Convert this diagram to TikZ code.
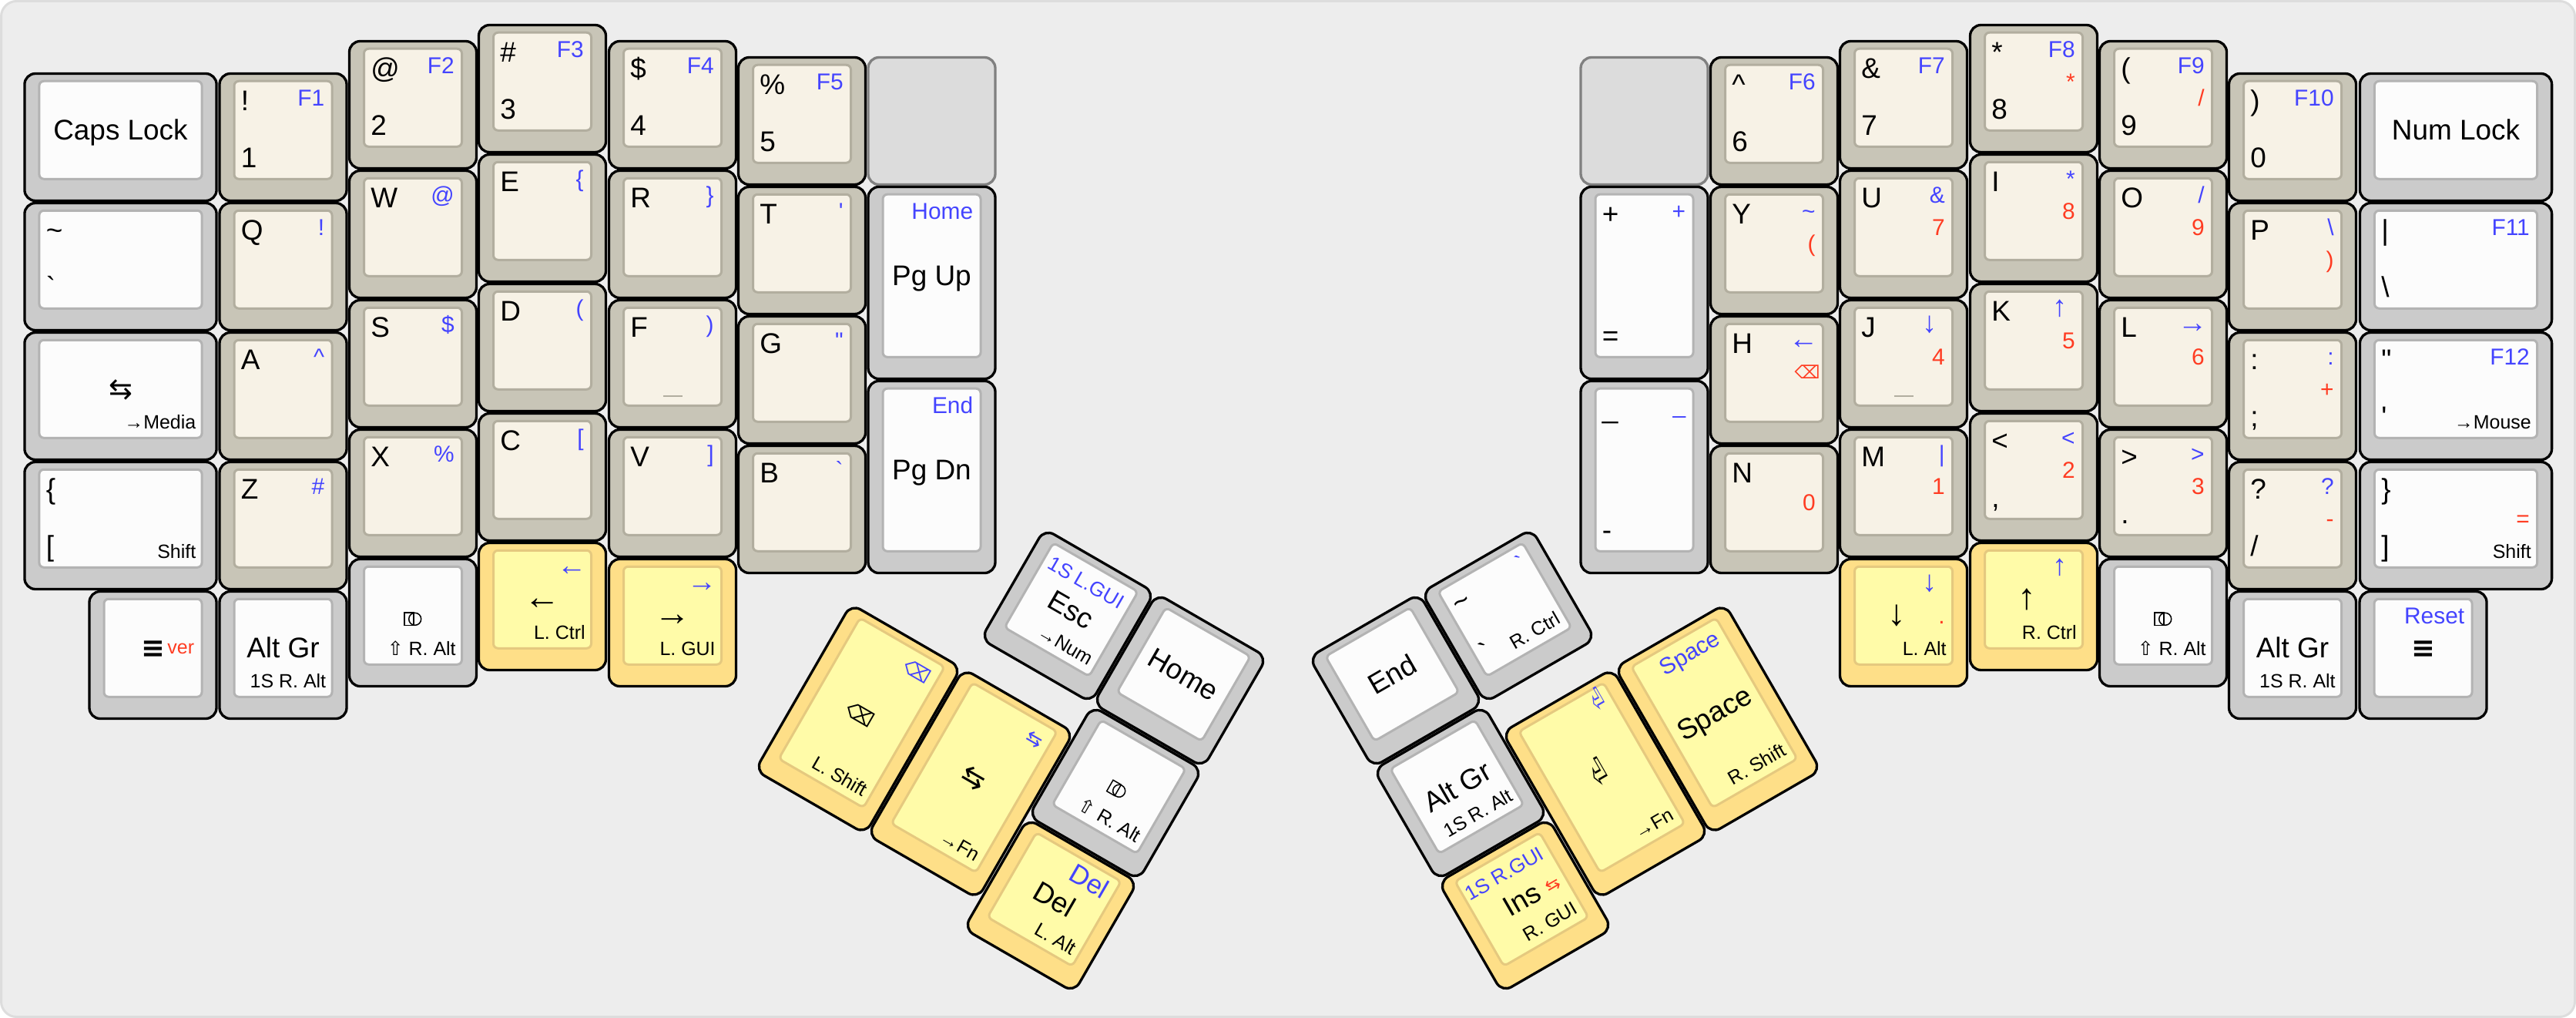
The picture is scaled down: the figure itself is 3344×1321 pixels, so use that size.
\documentclass[tikz,border=0pt]{standalone}
\usepackage{fontspec}
\newfontfamily\capfont{Liberation Sans}
\newfontfamily\capsym{DejaVu Sans}
\definecolor{capblue}{HTML}{4444FF}
\definecolor{capred}{HTML}{FF3C22}
\newcommand{\fmain}{\capfont\fontsize{21}{25}\selectfont}
\newcommand{\fmid}{\capfont\fontsize{17}{20}\selectfont}
\newcommand{\fsmall}{\capfont\fontsize{14.2}{17}\selectfont}
\newcommand{\fgui}{\capfont\fontsize{15}{18}\selectfont}
\newcommand{\fdel}{\capfont\fontsize{19.8}{24}\selectfont}
\newcommand{\capunit}{0.2mm}
\tikzset{
	cap/.cd,
	w/.store in=\capw, h/.store in=\caph, rot/.store in=\caprot, bump/.store in=\capbump, comp/.store in=\capcomp,
	tl/.store in=\captl, bl/.store in=\capbl, tr/.store in=\captr,
	mr/.store in=\capmr, br/.store in=\capbr, cc/.store in=\capcc,
	/tikz/.cd,
	capbody/.style={draw=black, line width=0.66mm, rounded corners=2.8mm, inner sep=0pt},
	captop/.style={line width=0.6mm, rounded corners=1.2mm, inner sep=0pt},
	graybody/.style={capbody, fill={rgb,255:red,203;green,203;blue,203}},
	graytop/.style={captop, draw={rgb,255:red,179;green,179;blue,179}, fill={rgb,255:red,252;green,252;blue,252}},
	alphabody/.style={capbody, fill={rgb,255:red,200;green,197;blue,183}},
	alphatop/.style={captop, draw={rgb,255:red,178;green,174;blue,159}, fill={rgb,255:red,247;green,242;blue,230}},
	modbody/.style={capbody, fill={rgb,255:red,254;green,223;blue,136}},
	modtop/.style={captop, draw={rgb,255:red,229;green,201;blue,127}, fill={rgb,255:red,255;green,251;blue,168}},
	blankcap/.style={draw={rgb,255:red,128;green,128;blue,128}, line width=0.66mm, rounded corners=2.8mm, inner sep=0pt,
		fill={rgb,255:red,220;green,220;blue,220}, minimum width=165*\capunit, minimum height=165*\capunit},
	legmain/.style={inner sep=0pt, font=\fmain},
	legtop/.style={inner sep=0pt, font=\fmid, text=capblue},
	legred/.style={inner sep=0pt, font=\fmid, text=capred},
	legsub/.style={inner sep=0pt, font=\fsmall},
	capmark/.style={draw={rgb,255:red,178;green,174;blue,159}, line width=0.55mm},
	compmark/.style={draw=black, line width=0.3mm}
}
\newcommand{\keycap}[5][]{%
	\begin{scope}
	\tikzset{cap/.cd, w=1, h=1, rot=0, bump=, comp=, tl=, bl=, tr=, mr=, br=, cc=, #1}
	\pgfmathsetmacro{\capow}{\capw*168.3-3.3}
	\pgfmathsetmacro{\capoh}{\caph*168.3-3.3}
	\pgfmathsetmacro{\capiw}{\capw*168.3-41.3}
	\pgfmathsetmacro{\capih}{\caph*168.3-41.3}
	\pgfmathsetmacro{\capl}{-\capiw/2+1.5}
	\pgfmathsetmacro{\capr}{\capiw/2-1.5}
	\pgfmathsetmacro{\capt}{-9.25-\capih/2+1.5}
	\pgfmathsetmacro{\capb}{-9.25+\capih/2-1.5}
	\begin{scope}[shift={(#4,#5)}, rotate=\caprot, every node/.append style={transform shape}]
		\node[#3body, minimum width=\capow*\capunit, minimum height=\capoh*\capunit] (#2) at (0,0) {};
		\node[#3top, minimum width=\capiw*\capunit, minimum height=\capih*\capunit] (#2-top) at (0,-9.25) {};
		\ifx\capbump\empty\else\draw[capmark] (-12.5,42) -- (12.5,42);\fi
		\ifx\capcomp\empty\else
			\draw[compmark] (-11,-13) rectangle (1,3.6);
			\draw[compmark] (2.7,-4.7) circle (8);
		\fi
		\ifx\captl\empty\else\node[legmain, anchor=base west] (#2-tl) at (\capl+7,\capt+37) {\captl};\fi
		\ifx\capbl\empty\else\node[legmain, anchor=base west] (#2-bl) at (\capl+7,\capb-13) {\capbl};\fi
		\ifx\captr\empty\else\node[legtop, anchor=base east] (#2-tr) at (\capr-8,\capt+31) {\captr};\fi
		\ifx\capmr\empty\else\node[legred, anchor=base east] (#2-mr) at (\capr-8,\capt+73) {\capmr};\fi
		\ifx\capbr\empty\else\node[legsub, anchor=base east] (#2-br) at (\capr-6,\capb-10) {\capbr};\fi
		\ifx\capcc\empty\else\node[legmain, anchor=base] (#2-cc) at (0,3.75) {\capcc};\fi
	\end{scope}
	\end{scope}
}
\newcommand{\sym}[2][1]{\scalebox{#1}{\capsym #2}}
\newcommand{\arr}[1]{\scalebox{1.28}{#1}}
\newcommand{\arrside}[1]{\arr{#1}\hspace*{-2.3pt}}
\newcommand{\arrtall}[1]{\arr{#1}\hspace*{5.7pt}}
\newcommand{\arrmid}[1]{\arr{#1}\hspace*{9.6pt}}
\newcommand{\menusym}{{\capsym\bfseries ≡}}
\newcommand{\entersym}{\scalebox{0.62}[1.5]{\capsym ⏎}}
\begin{document}
\begin{tikzpicture}[x=0.2mm, y=-0.2mm]
	\useasboundingbox (0,0) rectangle (3344,1321);
	\draw[draw={rgb,255:red,221;green,221;blue,221}, fill={rgb,255:red,237;green,237;blue,237}, line width=0.6mm, rounded corners=4mm] (1.5,1.5) rectangle (3342.5,1319.5);

	\keycap[w=1.5,cc={Caps Lock}]{capslock}{gray}{156.5}{178}
	\keycap[w=1.5,tl={\textasciitilde},bl={`}]{grave}{gray}{156.5}{346}
	\keycap[w=1.5,cc={\sym{⇆}},br={→Media}]{media}{gray}{156.5}{514}
	\keycap[w=1.5,tl={\{},bl={[},br={Shift}]{lshift}{gray}{156.5}{682}
	\keycap[cc={\menusym},mr={\raisebox{2pt}{\fsmall ver}}]{lmenu}{gray}{198.5}{850}

	\keycap[tl={!},bl={1},tr={F1}]{n1}{alpha}{367.5}{178}
	\keycap[tl={Q},tr={!}]{q}{alpha}{367.5}{346}
	\keycap[tl={A},tr={\textasciicircum}]{a}{alpha}{367.5}{514}
	\keycap[tl={Z},tr={\#}]{z}{alpha}{367.5}{682}
	\keycap[cc={Alt Gr},br={1S R. Alt}]{laltgr}{gray}{367.5}{850}

	\keycap[tl={@},bl={2},tr={F2}]{n2}{alpha}{536}{136}
	\keycap[tl={W},tr={@}]{w}{alpha}{536}{304}
	\keycap[tl={S},tr={\$}]{s}{alpha}{536}{472}
	\keycap[tl={X},tr={\%}]{x}{alpha}{536}{640}
	\keycap[comp=1,br={\sym{⇧} R. Alt}]{lcomp}{gray}{536}{808}

	\keycap[tl={\#},bl={3},tr={F3}]{n3}{alpha}{704}{115}
	\keycap[tl={E},tr={\{}]{e}{alpha}{704}{283}
	\keycap[tl={D},tr={(}]{d}{alpha}{704}{451}
	\keycap[tl={C},tr={[}]{c}{alpha}{704}{619}
	\keycap[cc={\arr{←}},tr={\arrside{←}},br={L. Ctrl}]{left}{mod}{704}{787}

	\keycap[tl={\$},bl={4},tr={F4}]{n4}{alpha}{873}{136}
	\keycap[tl={R},tr={\}}]{r}{alpha}{873}{304}
	\keycap[tl={F},tr={)},bump=1]{f}{alpha}{873}{472}
	\keycap[tl={V},tr={]}]{v}{alpha}{873}{640}
	\keycap[cc={\arr{→}},tr={\arrside{→}},br={L. GUI}]{right}{mod}{873}{808}

	\keycap[tl={\%},bl={5},tr={F5}]{n5}{alpha}{1041}{157}
	\keycap[tl={T},tr={'}]{t}{alpha}{1041}{325}
	\keycap[tl={G},tr={"}]{g}{alpha}{1041}{493}
	\keycap[tl={B},tr={`}]{b}{alpha}{1041}{661}

	\node[blankcap] (blankl) at (1209.5,157) {};
	\keycap[h=1.5,cc={Pg Up},tr={Home}]{pgup}{gray}{1209.5}{367}
	\keycap[h=1.5,cc={Pg Dn},tr={End}]{pgdn}{gray}{1209.5}{619}

	\keycap[rot=-30,cc={Esc},tr={\fgui 1S L.GUI},br={→Num}]{esc}{gray}{1386}{799}
	\keycap[rot=-30,cc={Home}]{home}{gray}{1532}{883}
	\keycap[rot=-30,comp=1,br={\sym{⇧} R. Alt}]{thcomp}{gray}{1448}{1029}
	\keycap[rot=-30,cc={Del},tr={\fdel Del},br={L. Alt}]{del}{mod}{1364}{1175}
	\keycap[rot=-30,h=1.5,cc={\sym{⇆}},tr={\sym[0.85]{⇆}},br={→Fn}]{thfn}{mod}{1260}{1017}
	\keycap[rot=-30,h=1.5,cc={\sym[0.72]{⌫}},tr={\sym[0.85]{⌫}},br={L. Shift}]{bksp}{mod}{1114}{933}

	\node[blankcap] (blankr) at (2134.5,157) {};
	\keycap[h=1.5,tl={+},bl={=},tr={+}]{plus}{gray}{2134.5}{367}
	\keycap[h=1.5,tl={\_},bl={-},tr={\_}]{minus}{gray}{2134.5}{619}

	\keycap[tl={\textasciicircum},bl={6},tr={F6}]{n6}{alpha}{2303}{157}
	\keycap[tl={Y},tr={\textasciitilde},mr={(}]{y}{alpha}{2303}{325}
	\keycap[tl={H},tr={\arrside{←}},mr={\raisebox{1.7pt}{\sym[0.78]{⌫}}\hspace*{-3.4pt}}]{h}{alpha}{2303}{493}
	\keycap[tl={N},mr={0}]{n}{alpha}{2303}{661}

	\keycap[tl={\&},bl={7},tr={F7}]{n7}{alpha}{2471}{136}
	\keycap[tl={U},tr={\&},mr={7}]{u}{alpha}{2471}{304}
	\keycap[tl={J},tr={\arrtall{↓}},mr={4},bump=1]{j}{alpha}{2471}{472}
	\keycap[tl={M},tr={|},mr={1}]{m}{alpha}{2471}{640}
	\keycap[cc={\arrmid{↓}},tr={\arrtall{↓}},mr={.},br={L. Alt}]{down}{mod}{2471}{808}

	\keycap[tl={*},bl={8},tr={F8},mr={*}]{n8}{alpha}{2640}{115}
	\keycap[tl={I},tr={*},mr={8}]{i}{alpha}{2640}{283}
	\keycap[tl={K},tr={\arrtall{↑}},mr={5}]{k}{alpha}{2640}{451}
	\keycap[tl={<},bl={,},tr={<},mr={2}]{comma}{alpha}{2640}{619}
	\keycap[cc={\arrmid{↑}},tr={\arrtall{↑}},br={R. Ctrl}]{up}{mod}{2640}{787}

	\keycap[tl={(},bl={9},tr={F9},mr={/}]{n9}{alpha}{2808}{136}
	\keycap[tl={O},tr={/},mr={9}]{o}{alpha}{2808}{304}
	\keycap[tl={L},tr={\arrside{→}},mr={6}]{l}{alpha}{2808}{472}
	\keycap[tl={>},bl={.},tr={>},mr={3}]{dot}{alpha}{2808}{640}
	\keycap[comp=1,br={\sym{⇧} R. Alt}]{rcomp}{gray}{2808}{808}

	\keycap[tl={)},bl={0},tr={F10}]{n0}{alpha}{2976}{178}
	\keycap[tl={P},tr={\textbackslash},mr={)}]{p}{alpha}{2976}{346}
	\keycap[tl={:},bl={;},tr={:},mr={+}]{colon}{alpha}{2976}{514}
	\keycap[tl={?},bl={/},tr={?},mr={-}]{slash}{alpha}{2976}{682}
	\keycap[cc={Alt Gr},br={1S R. Alt}]{raltgr}{gray}{2976}{850}

	\keycap[w=1.5,cc={Num Lock}]{numlock}{gray}{3188}{178}
	\keycap[w=1.5,tl={|},bl={\textbackslash},tr={F11}]{pipe}{gray}{3188}{346}
	\keycap[w=1.5,tl={"},bl={'},tr={F12},br={→Mouse}]{quote}{gray}{3188}{514}
	\keycap[w=1.5,tl={\}},bl={]},mr={=},br={Shift}]{rshift}{gray}{3188}{682}
	\keycap[cc={\menusym},tr={Reset}]{rmenu}{gray}{3145.5}{850}

	\keycap[rot=30,tl={\textasciitilde},bl={`},tr={`},br={R. Ctrl}]{thgrave}{gray}{1958}{799}
	\keycap[rot=30,cc={End}]{end}{gray}{1812}{883}
	\keycap[rot=30,cc={Alt Gr},br={1S R. Alt}]{thaltgr}{gray}{1896}{1029}
	\keycap[rot=30,cc={Ins},tr={\fgui 1S R.GUI},mr={\sym[0.75]{⇆}},br={R. GUI}]{ins}{mod}{1980}{1175}
	\keycap[rot=30,h=1.5,cc={\entersym},tr={\entersym},br={→Fn}]{enter}{mod}{2084}{1017}
	\keycap[rot=30,h=1.5,cc={Space},tr={Space},br={R. Shift}]{space}{mod}{2230}{933}
\end{tikzpicture}
\end{document}
